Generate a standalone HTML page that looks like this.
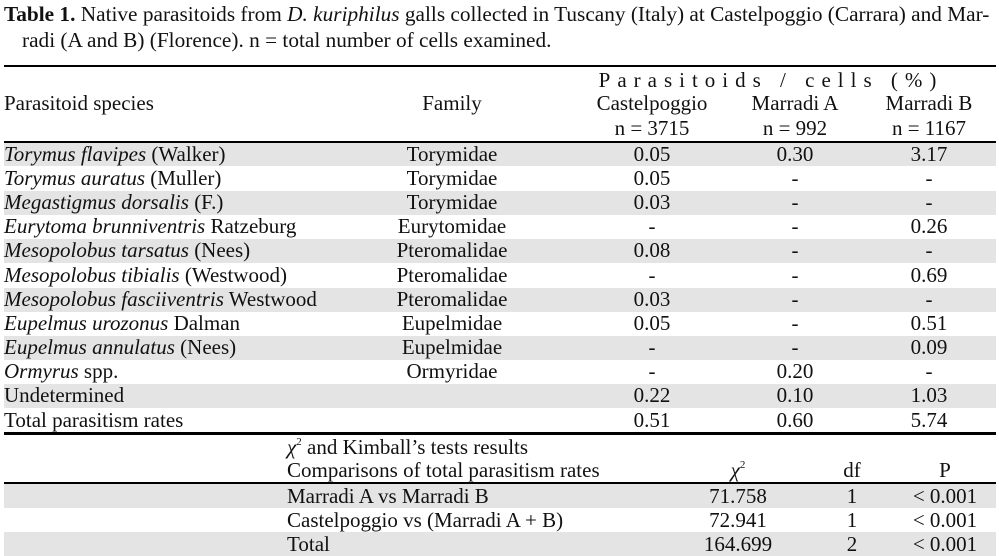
<!DOCTYPE html>
<html><head><meta charset="utf-8"><style>
body{margin:0;width:999px;height:556px;background:#fff;position:relative;overflow:hidden;font-family:"Liberation Serif",serif;font-size:21px;color:#111}
.t{position:absolute;white-space:nowrap;line-height:20px}
.c{transform:translateX(-50%)}
.bg{position:absolute;left:4px;width:992px;background:#e4e4e4}
.ln{position:absolute;left:4px;width:992px;background:#000}
i{font-style:italic}
.s{font-size:11px;position:relative;top:-9px}
</style></head><body>
<div class="t" style="left:4px;top:4px;font-size:21.3px"><b>Table 1.</b> Native parasitoids from <i>D. kuriphilus</i> galls collected in Tuscany (Italy) at Castelpoggio (Carrara) and Mar-</div>
<div class="t" style="left:22px;top:30px;font-size:21.3px">radi (A and B) (Florence). n = total number of cells examined.</div>
<div class="ln" style="top:65px;height:2px"></div>
<div class="t c" style="left:771px;top:70px;letter-spacing:7px">Parasitoids / cells (%)</div>
<div class="t" style="left:4px;top:93px">Parasitoid species</div>
<div class="t c" style="left:452px;top:93px">Family</div>
<div class="t c" style="left:652px;top:93px">Castelpoggio</div>
<div class="t c" style="left:795px;top:93px">Marradi A</div>
<div class="t c" style="left:929px;top:93px">Marradi B</div>
<div class="t c" style="left:652px;top:118px">n = 3715</div>
<div class="t c" style="left:795px;top:118px">n = 992</div>
<div class="t c" style="left:929px;top:118px">n = 1167</div>
<div class="ln" style="top:141px;height:1.5px"></div>

<div class="bg" style="top:143px;height:23px"></div>
<div class="bg" style="top:191px;height:24px"></div>
<div class="bg" style="top:239px;height:24px"></div>
<div class="bg" style="top:288px;height:24px"></div>
<div class="bg" style="top:336px;height:24px"></div>
<div class="bg" style="top:384px;height:24px"></div>

<div class="t" style="left:4px;top:144px"><i>Torymus flavipes</i> (Walker)</div>
<div class="t" style="left:4px;top:168px"><i>Torymus auratus</i> (Muller)</div>
<div class="t" style="left:4px;top:192px"><i>Megastigmus dorsalis</i> (F.)</div>
<div class="t" style="left:4px;top:216px"><i>Eurytoma brunniventris</i> Ratzeburg</div>
<div class="t" style="left:4px;top:240px"><i>Mesopolobus tarsatus</i> (Nees)</div>
<div class="t" style="left:4px;top:265px"><i>Mesopolobus tibialis</i> (Westwood)</div>
<div class="t" style="left:4px;top:289px"><i>Mesopolobus fasciiventris</i> Westwood</div>
<div class="t" style="left:4px;top:313px"><i>Eupelmus urozonus</i> Dalman</div>
<div class="t" style="left:4px;top:337px"><i>Eupelmus annulatus</i> (Nees)</div>
<div class="t" style="left:4px;top:361px"><i>Ormyrus</i> spp.</div>
<div class="t" style="left:4px;top:385px">Undetermined</div>
<div class="t" style="left:4px;top:410px">Total parasitism rates</div>

<div class="t c" style="left:452px;top:144px">Torymidae</div>
<div class="t c" style="left:452px;top:168px">Torymidae</div>
<div class="t c" style="left:452px;top:192px">Torymidae</div>
<div class="t c" style="left:452px;top:216px">Eurytomidae</div>
<div class="t c" style="left:452px;top:240px">Pteromalidae</div>
<div class="t c" style="left:452px;top:265px">Pteromalidae</div>
<div class="t c" style="left:452px;top:289px">Pteromalidae</div>
<div class="t c" style="left:452px;top:313px">Eupelmidae</div>
<div class="t c" style="left:452px;top:337px">Eupelmidae</div>
<div class="t c" style="left:452px;top:361px">Ormyridae</div>

<div class="t c" style="left:652px;top:144px">0.05</div>
<div class="t c" style="left:652px;top:168px">0.05</div>
<div class="t c" style="left:652px;top:192px">0.03</div>
<div class="t c" style="left:652px;top:216px">-</div>
<div class="t c" style="left:652px;top:240px">0.08</div>
<div class="t c" style="left:652px;top:265px">-</div>
<div class="t c" style="left:652px;top:289px">0.03</div>
<div class="t c" style="left:652px;top:313px">0.05</div>
<div class="t c" style="left:652px;top:337px">-</div>
<div class="t c" style="left:652px;top:361px">-</div>
<div class="t c" style="left:652px;top:385px">0.22</div>
<div class="t c" style="left:652px;top:410px">0.51</div>

<div class="t c" style="left:795px;top:144px">0.30</div>
<div class="t c" style="left:795px;top:168px">-</div>
<div class="t c" style="left:795px;top:192px">-</div>
<div class="t c" style="left:795px;top:216px">-</div>
<div class="t c" style="left:795px;top:240px">-</div>
<div class="t c" style="left:795px;top:265px">-</div>
<div class="t c" style="left:795px;top:289px">-</div>
<div class="t c" style="left:795px;top:313px">-</div>
<div class="t c" style="left:795px;top:337px">-</div>
<div class="t c" style="left:795px;top:361px">0.20</div>
<div class="t c" style="left:795px;top:385px">0.10</div>
<div class="t c" style="left:795px;top:410px">0.60</div>

<div class="t c" style="left:929px;top:144px">3.17</div>
<div class="t c" style="left:929px;top:168px">-</div>
<div class="t c" style="left:929px;top:192px">-</div>
<div class="t c" style="left:929px;top:216px">0.26</div>
<div class="t c" style="left:929px;top:240px">-</div>
<div class="t c" style="left:929px;top:265px">0.69</div>
<div class="t c" style="left:929px;top:289px">-</div>
<div class="t c" style="left:929px;top:313px">0.51</div>
<div class="t c" style="left:929px;top:337px">0.09</div>
<div class="t c" style="left:929px;top:361px">-</div>
<div class="t c" style="left:929px;top:385px">1.03</div>
<div class="t c" style="left:929px;top:410px">5.74</div>

<div class="ln" style="top:432px;height:2.5px"></div>
<div class="t" style="left:287px;top:437px"><i>χ</i><span class="s">2</span> and Kimball’s tests results</div>
<div class="t" style="left:287px;top:460px">Comparisons of total parasitism rates</div>
<div class="t c" style="left:738px;top:460px"><i>χ</i><span class="s">2</span></div>
<div class="t c" style="left:852px;top:460px">df</div>
<div class="t c" style="left:945px;top:460px">P</div>
<div class="ln" style="top:482px;height:1.5px"></div>
<div class="bg" style="top:484px;height:24px"></div>
<div class="bg" style="top:532px;height:24px"></div>
<div class="t" style="left:287px;top:486px">Marradi A vs Marradi B</div>
<div class="t" style="left:287px;top:510px">Castelpoggio vs (Marradi A + B)</div>
<div class="t" style="left:287px;top:534px">Total</div>
<div class="t c" style="left:738px;top:486px">71.758</div>
<div class="t c" style="left:738px;top:510px">72.941</div>
<div class="t c" style="left:738px;top:534px">164.699</div>
<div class="t c" style="left:852px;top:486px">1</div>
<div class="t c" style="left:852px;top:510px">1</div>
<div class="t c" style="left:852px;top:534px">2</div>
<div class="t c" style="left:945px;top:486px">&lt; 0.001</div>
<div class="t c" style="left:945px;top:510px">&lt; 0.001</div>
<div class="t c" style="left:945px;top:534px">&lt; 0.001</div>
</body></html>
